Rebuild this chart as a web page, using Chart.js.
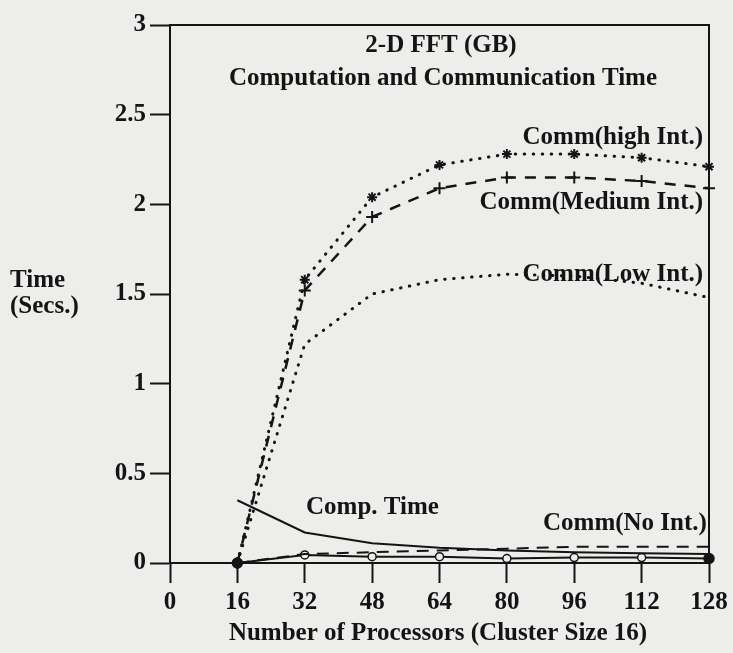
<!DOCTYPE html>
<html>
<head>
<meta charset="utf-8">
<title>2-D FFT (GB)</title>
<script src="https://cdn.jsdelivr.net/npm/chart.js@4.4.1/dist/chart.umd.min.js"></script>
<style>
  html, body { margin: 0; padding: 0; background: #ededeb; }
  #grafico { display: block; }
</style>
</head>
<body>
<canvas id="grafico" width="733" height="653"></canvas>
<script>
// Datos: tiempo (segundos) contra número de procesadores
const procesadores = [16, 32, 48, 64, 80, 96, 112, 128];
const commHigh = [0, 1.58, 2.04, 2.22, 2.28, 2.28, 2.26, 2.21];
const commMedium = [0, 1.52, 1.93, 2.09, 2.15, 2.15, 2.13, 2.09];
const commLow = [0, 1.22, 1.5, 1.58, 1.61, 1.6, 1.56, 1.48];
const compTime = [0.35, 0.17, 0.11, 0.085, 0.07, 0.06, 0.055, 0.05];
const commNone = [0, 0.05, 0.06, 0.07, 0.08, 0.09, 0.09, 0.09];
const commBase = [0, 0.045, 0.035, 0.035, 0.025, 0.03, 0.03, 0.025];

const xTicks = [0, 16, 32, 48, 64, 80, 96, 112, 128];
const yTicks = [0, 0.5, 1, 1.5, 2, 2.5, 3];

const FUENTE = "'Liberation Serif', 'Times New Roman', serif";
const TINTA = "#141414";

function puntos(valores) {
  return procesadores.map((x, i) => ({ x: x, y: valores[i] }));
}

// Etiquetas de texto sobre el gráfico (en coordenadas de datos)
const etiquetas = [
  { text: "Comm(high Int.)", x: 126.6, y: 2.37, align: "right" },
  { text: "Comm(Medium Int.)", x: 126.6, y: 2.01, align: "right" },
  { text: "Comm(Low Int.)", x: 126.6, y: 1.61, align: "right" },
  { text: "Comp. Time", x: 32.3, y: 0.31, align: "left" },
  { text: "Comm(No Int.)", x: 127.5, y: 0.22, align: "right" },
];

const decoracion = {
  id: "decoracion",
  beforeDraw(chart) {
    const c = chart.ctx;
    c.save();
    c.fillStyle = "#ededeb";
    c.fillRect(0, 0, chart.width, chart.height);
    c.restore();
  },
  afterDraw(chart) {
    const c = chart.ctx;
    const area = chart.chartArea;
    const sx = chart.scales.x;
    const sy = chart.scales.y;
    c.save();
    // marco superior y derecho
    c.strokeStyle = TINTA;
    c.lineWidth = 2;
    c.beginPath();
    c.moveTo(area.left, area.top);
    c.lineTo(area.right, area.top);
    c.lineTo(area.right, area.bottom);
    c.stroke();

    c.fillStyle = TINTA;
    c.font = "bold 25px " + FUENTE;
    c.textBaseline = "middle";
    etiquetas.forEach((e) => {
      c.textAlign = e.align;
      c.fillText(e.text, sx.getPixelForValue(e.x), sy.getPixelForValue(e.y));
    });

    // títulos
    c.textAlign = "center";
    c.fillText("2-D FFT (GB)", 441, 46);
    c.fillText("Computation and Communication Time", 443, 79);
    c.fillText("Number of Processors (Cluster Size 16)", 438, 634);
    c.textAlign = "left";
    c.fillText("Time", 10, 281);
    c.fillText("(Secs.)", 10, 307);
    c.restore();
  },
};

function crearGrafico() {
  const ctx = document.getElementById("grafico").getContext("2d");
  new Chart(ctx, {
    type: "line",
    data: {
      datasets: [
        {
          label: "Comm(high Int.)",
          data: puntos(commHigh),
          borderColor: TINTA,
          borderWidth: 3,
          borderDash: [0.5, 8.5],
          borderCapStyle: "round",
          pointStyle: "star",
          pointRadius: 5,
          pointBorderWidth: 2,
          pointBorderColor: TINTA,
        },
        {
          label: "Comm(Medium Int.)",
          data: puntos(commMedium),
          borderColor: TINTA,
          borderWidth: 2.5,
          borderDash: [11, 9],
          pointStyle: "cross",
          pointRadius: 6,
          pointBorderWidth: 2,
          pointBorderColor: TINTA,
        },
        {
          label: "Comm(Low Int.)",
          data: puntos(commLow),
          borderColor: TINTA,
          borderWidth: 3,
          borderDash: [0.5, 8.5],
          borderCapStyle: "round",
          pointRadius: 0,
        },
        {
          label: "Comp. Time",
          data: puntos(compTime),
          borderColor: TINTA,
          borderWidth: 2,
          pointRadius: 0,
        },
        {
          label: "Comm(No Int.)",
          data: puntos(commNone),
          borderColor: TINTA,
          borderWidth: 2,
          borderDash: [12, 8],
          pointRadius: 0,
        },
        {
          label: "base",
          data: puntos(commBase),
          borderColor: TINTA,
          borderWidth: 2,
          pointStyle: "circle",
          pointRadius: (c) => (c.dataIndex === 0 || c.dataIndex === 7 ? 5 : 4),
          pointBackgroundColor: (c) =>
            c.dataIndex === 0 || c.dataIndex === 7 ? TINTA : "#ededeb",
          pointBorderColor: TINTA,
          pointBorderWidth: 1.5,
        },
      ],
    },
    options: {
      responsive: false,
      animation: false,
      clip: false,
      layout: { padding: { top: 25, right: 24, left: 0, bottom: 0 } },
      plugins: {
        legend: { display: false },
        tooltip: { enabled: false },
      },
      elements: { line: { tension: 0 } },
      scales: {
        x: {
          type: "linear",
          min: 0,
          max: 128,
          afterBuildTicks: (s) => { s.ticks = xTicks.map((v) => ({ value: v })); },
          afterFit: (s) => { s.height = 90; },
          border: { display: true, color: TINTA, width: 2 },
          grid: {
            drawOnChartArea: false,
            drawTicks: true,
            tickLength: 20,
            tickWidth: 2,
            tickColor: TINTA,
          },
          ticks: {
            color: TINTA,
            padding: 5,
            maxRotation: 0,
            callback: (v) => String(v),
            font: { family: FUENTE, size: 25, weight: "bold" },
          },
        },
        y: {
          type: "linear",
          min: 0,
          max: 3,
          afterBuildTicks: (s) => { s.ticks = yTicks.map((v) => ({ value: v })); },
          afterFit: (s) => { s.width = 170; },
          border: { display: true, color: TINTA, width: 2 },
          grid: {
            drawOnChartArea: false,
            drawTicks: true,
            tickLength: 20,
            tickWidth: 2,
            tickColor: TINTA,
          },
          ticks: {
            color: TINTA,
            padding: 4,
            callback: (v) => String(v),
            font: { family: FUENTE, size: 25, weight: "bold" },
          },
        },
      },
    },
    plugins: [decoracion],
  });
}

document.addEventListener("DOMContentLoaded", () => {
  crearGrafico();
});
</script>
</body>
</html>
